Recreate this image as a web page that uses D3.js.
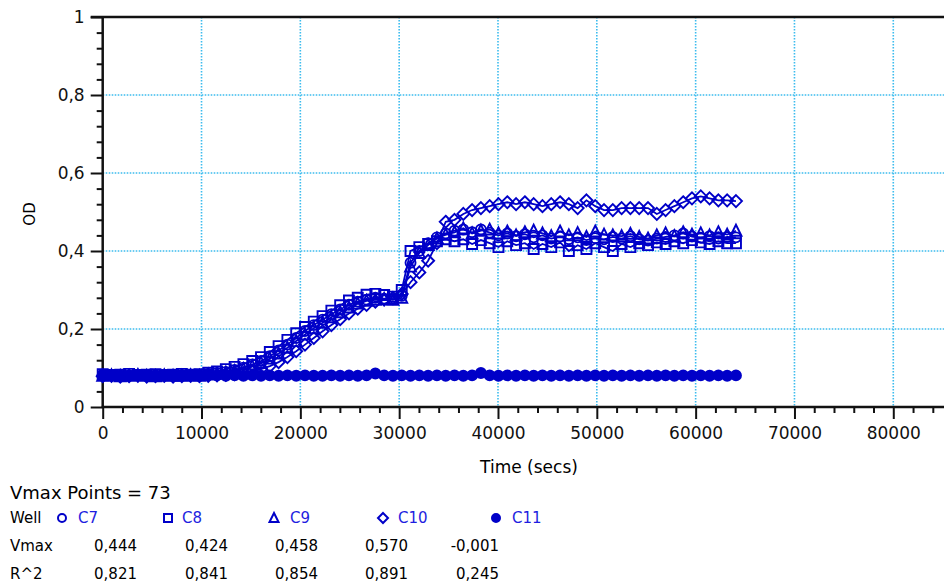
<!DOCTYPE html>
<html>
<head>
<meta charset="utf-8">
<script src="https://cdn.jsdelivr.net/npm/d3@7"></script>
<style>
  body { margin: 0; background: #fff; }
  svg { display: block; font-family: "DejaVu Sans", Verdana, sans-serif; }
</style>
</head>
<body>
<div id="chart"></div>
<script>
// Reading times (secs), 73 points
const times = [0, 890, 1780, 2670, 3560, 4450, 5340, 6230, 7120, 8010, 8900, 9790, 10680, 11570, 12460, 13350,
  14240, 15130, 16020, 16910, 17800, 18690, 19580, 20470, 21360, 22250, 23140, 24030, 24920, 25810, 26700,
  27590, 28480, 29370, 30260, 31150, 32040, 32930, 33820, 34710, 35600, 36490, 37380, 38270, 39160, 40050,
  40940, 41830, 42720, 43610, 44500, 45390, 46280, 47170, 48060, 48950, 49840, 50730, 51620, 52510, 53400,
  54290, 55180, 56070, 56960, 57850, 58740, 59630, 60520, 61410, 62300, 63190, 64080];

const wells = ["C7", "C8", "C9", "C10", "C11"];
const shapes = ["circle", "square", "triangle", "diamond", "dot"];

const odC7 = [0.082, 0.08, 0.083, 0.081, 0.08, 0.082, 0.081, 0.08, 0.082, 0.081, 0.083, 0.082,
  0.085, 0.087, 0.09, 0.095, 0.101, 0.109, 0.118, 0.13, 0.145, 0.16, 0.177, 0.195,
  0.21, 0.224, 0.238, 0.25, 0.262, 0.27, 0.275, 0.28, 0.278, 0.276, 0.285,
  0.37, 0.4, 0.42, 0.435, 0.445,
  0.452, 0.455, 0.448, 0.455, 0.447, 0.44, 0.445, 0.438, 0.443, 0.435, 0.44, 0.432, 0.437, 0.43, 0.435, 0.428,
  0.433, 0.43, 0.436, 0.432, 0.438, 0.43, 0.427, 0.432, 0.436, 0.44, 0.445, 0.437, 0.434, 0.438, 0.432, 0.436, 0.435];
const odC8 = [0.084, 0.082, 0.083, 0.085, 0.082, 0.083, 0.084, 0.082, 0.083, 0.085, 0.083, 0.084,
  0.088, 0.091, 0.097, 0.103, 0.11, 0.118, 0.128, 0.141, 0.156, 0.172, 0.189, 0.205,
  0.219, 0.233, 0.247, 0.261, 0.273, 0.28, 0.288, 0.29, 0.287, 0.283, 0.3,
  0.4, 0.41, 0.418, 0.425, 0.43,
  0.425, 0.43, 0.418, 0.428, 0.42, 0.41, 0.425, 0.415, 0.42, 0.405, 0.418, 0.41, 0.422, 0.4, 0.415, 0.405,
  0.42, 0.41, 0.4, 0.418, 0.41, 0.42, 0.415, 0.422, 0.418, 0.425, 0.42, 0.428, 0.422, 0.418, 0.425, 0.42, 0.42];
const odC9 = [0.08, 0.081, 0.079, 0.08, 0.082, 0.08, 0.079, 0.081, 0.08, 0.08, 0.081, 0.08,
  0.083, 0.085, 0.088, 0.092, 0.097, 0.104, 0.113, 0.124, 0.137, 0.152, 0.169, 0.186,
  0.202, 0.216, 0.23, 0.243, 0.255, 0.265, 0.272, 0.275, 0.277, 0.275, 0.28,
  0.36, 0.395, 0.415, 0.432, 0.442,
  0.448, 0.458, 0.445, 0.452, 0.455, 0.445, 0.45, 0.44, 0.448, 0.452, 0.445, 0.438, 0.45, 0.44, 0.446, 0.436,
  0.45, 0.442, 0.44, 0.438, 0.444, 0.436, 0.432, 0.44, 0.445, 0.438, 0.448, 0.442, 0.445, 0.44, 0.448, 0.442, 0.452];
const odC10 = [0.079, 0.08, 0.078, 0.079, 0.08, 0.078, 0.079, 0.08, 0.078, 0.079, 0.08, 0.079,
  0.08, 0.081, 0.082, 0.084, 0.087, 0.091, 0.097, 0.105, 0.115, 0.128, 0.143, 0.16,
  0.177, 0.194, 0.21, 0.225, 0.24, 0.252, 0.262, 0.27, 0.275, 0.28, 0.29,
  0.32, 0.345, 0.375, 0.42, 0.475,
  0.48, 0.495, 0.505, 0.51, 0.515, 0.52, 0.525, 0.52, 0.525, 0.52, 0.515, 0.52, 0.525, 0.52, 0.51, 0.53,
  0.515, 0.505, 0.505, 0.51, 0.51, 0.51, 0.51, 0.495, 0.505, 0.515, 0.525, 0.535, 0.54, 0.535, 0.53, 0.53, 0.528];
const odC11 = [0.082, 0.081, 0.08, 0.081, 0.082, 0.08, 0.081, 0.08, 0.081, 0.082, 0.08, 0.081,
  0.082, 0.081, 0.08, 0.081, 0.08, 0.081, 0.08, 0.081, 0.08, 0.081, 0.08, 0.081,
  0.08, 0.08, 0.081, 0.08, 0.081, 0.08, 0.081, 0.086, 0.081, 0.08, 0.081,
  0.08, 0.081, 0.08, 0.081, 0.08,
  0.081, 0.08, 0.081, 0.087, 0.081, 0.08, 0.081, 0.08, 0.081, 0.08, 0.081, 0.08, 0.081, 0.08, 0.081, 0.08,
  0.081, 0.08, 0.081, 0.08, 0.081, 0.08, 0.081, 0.08, 0.081, 0.08, 0.081, 0.08, 0.081, 0.08, 0.081, 0.08, 0.081];
const series = [odC7, odC8, odC9, odC10, odC11];

const vmaxVals = ["0,444", "0,424", "0,458", "0,570", "-0,001"];
const r2Vals = ["0,821", "0,841", "0,854", "0,891", "0,245"];
const xTicks = [0, 10000, 20000, 30000, 40000, 50000, 60000, 70000, 80000];
const yTicks = [0, 0.2, 0.4, 0.6, 0.8, 1];

const width = 944, height = 582;
const blue = "#0000c8", gridBlue = "#3cbcee";

const svg = d3.select("#chart").append("svg")
  .attr("width", width)
  .attr("height", height);

const x = d3.scaleLinear().domain([0, 85000]).range([102.7, 942.7]);
const y = d3.scaleLinear().domain([0, 1]).range([407, 17]);

// dotted grid
svg.append("g").selectAll("line")
  .data(xTicks.filter(d => d > 0))
  .enter().append("line")
  .attr("x1", d => x(d)).attr("x2", d => x(d))
  .attr("y1", y(1)).attr("y2", y(0))
  .attr("stroke", gridBlue).attr("stroke-width", 1.6)
  .attr("stroke-dasharray", "1.6,1.4");
svg.append("g").selectAll("line")
  .data(yTicks.filter(d => d > 0 && d < 1))
  .enter().append("line")
  .attr("x1", x(0)).attr("x2", width)
  .attr("y1", d => y(d)).attr("y2", d => y(d))
  .attr("stroke", gridBlue).attr("stroke-width", 1.6)
  .attr("stroke-dasharray", "1.6,1.4");

// axes
const xAxis = svg.append("g")
  .attr("transform", `translate(0,${y(0)})`)
  .call(d3.axisBottom(x).tickValues(xTicks).tickSize(12).tickPadding(6).tickFormat(d3.format("d")));
const xMinor = svg.append("g")
  .attr("transform", `translate(0,${y(0)})`)
  .call(d3.axisBottom(x).tickValues(d3.range(0, 85001, 2000).filter(d => d % 10000 !== 0)).tickSize(6).tickFormat(""));
const yAxis = svg.append("g")
  .attr("transform", `translate(${x(0)},0)`)
  .call(d3.axisLeft(y).tickValues(yTicks).tickSize(12).tickPadding(6)
    .tickFormat(d => d === 0 || d === 1 ? String(d) : String(d3.format(".1f")(d)).replace(".", ",")));
const yMinor = svg.append("g")
  .attr("transform", `translate(${x(0)},0)`)
  .call(d3.axisLeft(y).tickValues(d3.range(0.04, 1, 0.04).filter(d => Math.abs(d * 5 - Math.round(d * 5)) > 1e-6)).tickSize(6).tickFormat(""));

[xAxis, xMinor, yAxis, yMinor].forEach(g => {
  g.select(".domain").remove();
  g.selectAll("line").attr("stroke", "#111").attr("stroke-width", 2);
  g.selectAll("text").attr("fill", "#111").style("font-size", "17px").style("font-family", "DejaVu Sans");
});
xAxis.selectAll("text").attr("dy", "0.8em");

// axis lines
svg.append("line").attr("x1", x(0)).attr("x2", x(0)).attr("y1", y(1)).attr("y2", y(0))
  .attr("stroke", "#111").attr("stroke-width", 2.5);
svg.append("line").attr("x1", x(0) - 1).attr("x2", width).attr("y1", y(0)).attr("y2", y(0))
  .attr("stroke", "#111").attr("stroke-width", 2.5);
svg.append("line").attr("x1", x(0) - 12).attr("x2", width).attr("y1", y(1)).attr("y2", y(1))
  .attr("stroke", "#111").attr("stroke-width", 2.5);

// axis titles
svg.append("text")
  .attr("x", 529).attr("y", 473)
  .attr("text-anchor", "middle")
  .style("font-size", "17px")
  .text("Time (secs)");
svg.append("text")
  .attr("transform", "translate(35,214) rotate(-90)")
  .attr("text-anchor", "middle")
  .style("font-size", "15px")
  .text("OD");

// marker shapes
function marker(shape, s) {
  const h = s / 2;
  if (shape === "square") return `M${-h},${-h}H${h}V${h}H${-h}Z`;
  if (shape === "triangle") return `M0,${-h - 1}L${h + 0.5},${h}H${-h - 0.5}Z`;
  if (shape === "diamond") return `M0,${-h - 1}L${h + 1},0L0,${h + 1}L${-h - 1},0Z`;
  return d3.symbol(d3.symbolCircle, Math.PI * h * h)();
}

const line = d3.line()
  .x((d, i) => x(times[i]))
  .y(d => y(d));

const plot = svg.append("g");
series.forEach((vals, k) => {
  const g = plot.append("g");
  g.append("path")
    .datum(vals)
    .attr("d", line)
    .attr("fill", "none")
    .attr("stroke", blue)
    .attr("stroke-width", 1.8);
  g.selectAll("path.pt")
    .data(vals)
    .enter().append("path")
    .attr("class", "pt")
    .attr("transform", (d, i) => `translate(${x(times[i])},${y(d)})`)
    .attr("d", marker(shapes[k], 10))
    .attr("fill", shapes[k] === "dot" ? blue : "none")
    .attr("stroke", blue)
    .attr("stroke-width", 1.9);
});

// legend / stats table
svg.append("text")
  .attr("x", 10).attr("y", 499)
  .style("font-size", "18px")
  .text("Vmax Points = 73");

const colMarker = [62, 168, 274, 383, 496];
const colLabel = [78, 182, 290, 398, 512];
const colRight = [137, 228, 318, 408, 499];

svg.append("text").attr("x", 10).attr("y", 523).style("font-size", "15px").text("Well");
wells.forEach((w, k) => {
  svg.append("path")
    .attr("transform", `translate(${colMarker[k]},518)`)
    .attr("d", marker(shapes[k], 8))
    .attr("fill", shapes[k] === "dot" ? blue : "none")
    .attr("stroke", blue)
    .attr("stroke-width", 2);
  svg.append("text")
    .attr("x", colLabel[k]).attr("y", 523)
    .attr("fill", "#1e1ee0")
    .style("font-size", "15px")
    .text(w);
});

svg.append("text").attr("x", 10).attr("y", 551).style("font-size", "15px").text("Vmax");
svg.append("text").attr("x", 10).attr("y", 579).style("font-size", "15px").text("R^2");
svg.append("g").selectAll("text")
  .data(vmaxVals)
  .enter().append("text")
  .attr("x", (d, i) => colRight[i]).attr("y", 551)
  .attr("text-anchor", "end")
  .style("font-size", "15px")
  .text(d => d);
svg.append("g").selectAll("text")
  .data(r2Vals)
  .enter().append("text")
  .attr("x", (d, i) => colRight[i]).attr("y", 579)
  .attr("text-anchor", "end")
  .style("font-size", "15px")
  .text(d => d);
</script>
</body>
</html>
